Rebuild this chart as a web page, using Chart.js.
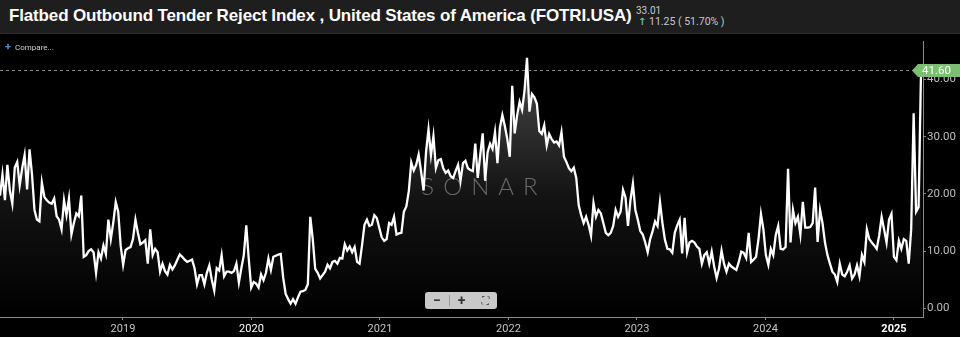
<!DOCTYPE html>
<html>
<head>
<meta charset="utf-8">
<script src="https://cdn.jsdelivr.net/npm/chart.js@4/dist/chart.umd.min.js"></script>
<style>
  html, body { margin: 0; padding: 0; background: #000; width: 960px; height: 337px; overflow: hidden; }
  body { position: relative; font-family: Roboto, "Liberation Sans", sans-serif; }
  .header {
    position: absolute; left: 0; top: 0; width: 960px; height: 33px;
    background: #1e1e1e; border-bottom: 1px solid #2f2f2f;
  }
  .title {
    position: absolute; left: 9px; top: 6px; color: #fff; letter-spacing: -0.15px;
    font: bold 17px "Liberation Sans", Arial, sans-serif; white-space: nowrap;
  }
  .last { position: absolute; left: 636px; top: 5px; color: #c8c8c8; font-size: 10px; }
  .change { position: absolute; left: 638px; top: 15px; color: #c8c8c8; font-size: 10.5px; white-space: nowrap; }
  .change b { color: #5cc48a; font-weight: bold; font-family: "DejaVu Sans", sans-serif; font-size: 10px; }
  .compare { position: absolute; left: 5px; top: 40px; color: #cfcfcf; font-size: 8px; }
  .compare span { color: #4a8fe0; font-weight: bold; font-size: 11px; margin-right: 4px; }
  #wrap { position: absolute; left: 0; top: 34px; width: 960px; height: 303px; }
  .zoom {
    position: absolute; left: 425px; top: 292px; width: 72px; height: 17px;
    background: #c9c9c9; border-radius: 3px; display: flex; align-items: center;
    color: #333; font-size: 14px; font-weight: bold;
  }
  .zoom div { flex: 1; text-align: center; line-height: 17px; }
  .zoom .sep { flex: 0 0 1px; height: 11px; background: #999; }
  .zoom .fit { font-size: 10px; font-weight: normal; letter-spacing: -1px; }
</style>
</head>
<body>
<div class="header">
  <div class="title">Flatbed Outbound Tender Reject Index , United States of America (FOTRI.USA)</div>
  <div class="last">33.01</div>
  <div class="change"><b>&#x2191;</b> 11.25 ( 51.70% )</div>
</div>
<div id="wrap"><canvas id="rejectChart"></canvas></div>
<div class="compare"><span>+</span>Compare...</div>
<div class="zoom"><div>&minus;</div><div class="sep"></div><div>+</div><div class="fit">&#x26F6;</div></div>
<script>
// Weekly tender reject index (%), one array per calendar year
const v2018 = [19.7, 23.4, 18.9, 25.1, 20.6, 18.3, 24.6, 25.6, 21.5, 24.5,
  26.8, 20.8, 27.8, 23.4, 17.2, 15.5, 15.2, 22.0, 19.5, 18.9,
  18.5, 18.3, 19.2, 16.1, 15.5, 13.8, 18.9, 16.3, 19.2, 12.9,
  14.9, 16.6, 16.1, 19.7, 9.0, 9.3, 10.0, 10.3, 9.8, 6.2,
  9.8, 8.7, 11.0, 9.5, 15.5, 12.1, 15.0, 18.6, 16.9, 11.0];
const v2019 = [7.6, 10.2, 10.5, 10.7, 12.1, 15.5, 13.2, 11.2, 11.5, 11.9,
  7.8, 13.8, 9.3, 10.4, 9.8, 6.4, 7.8, 6.5, 5.9, 7.6,
  6.8, 7.5, 8.5, 9.4, 9.0, 8.5, 8.1, 8.3, 8.5, 7.0,
  4.2, 5.8, 5.8, 4.2, 6.2, 7.5, 5.0, 3.1, 7.0, 6.6,
  9.3, 5.6, 6.4, 6.4, 6.2, 6.5, 7.8, 4.5, 7.0, 9.3,
  14.5, 8.7];
const v2020 = [3.6, 4.6, 4.3, 3.6, 5.9, 4.9, 6.2, 8.7, 6.7, 9.0,
  9.2, 9.4, 9.5, 5.3, 2.5, 1.6, 0.8, 1.6, 0.8, 1.9,
  2.9, 3.0, 3.2, 4.2, 16.0, 12.1, 6.9, 6.2, 5.2, 5.8,
  6.4, 7.6, 7.0, 8.1, 8.3, 7.8, 8.8, 8.7, 11.2, 10.1,
  10.8, 9.8, 10.7, 8.1, 7.8, 11.0, 14.6, 15.5, 14.4, 14.6,
  16.3, 15.8];
const v2021 = [14.1, 12.4, 11.8, 12.1, 14.9, 14.6, 16.0, 12.9, 13.1, 13.2,
  16.9, 17.8, 20.5, 25.5, 24.1, 25.1, 26.9, 23.9, 20.6, 27.3,
  31.3, 26.8, 30.1, 24.5, 25.9, 26.1, 24.5, 23.7, 24.1, 23.1,
  22.8, 24.0, 25.1, 22.3, 25.4, 25.8, 24.5, 24.2, 24.0, 28.8,
  22.8, 26.8, 30.6, 22.3, 27.3, 28.8, 27.9, 30.8, 25.4, 31.6,
  33.8, 31.9];
const v2022 = [29.6, 26.5, 38.9, 30.6, 33.8, 36.1, 34.7, 38.1, 43.8, 34.4,
  37.5, 36.9, 35.8, 31.0, 30.5, 32.0, 28.5, 30.5, 29.6, 29.0,
  29.2, 28.5, 30.8, 26.5, 25.6, 24.5, 24.0, 24.6, 22.8, 18.0,
  16.3, 14.9, 16.0, 14.6, 12.7, 18.4, 16.0, 17.2, 16.6, 14.9,
  13.2, 12.8, 13.2, 14.4, 17.2, 16.0, 16.9, 20.7, 19.4, 14.4,
  18.9, 21.8, 17.2];
const v2023 = [15.5, 13.5, 12.9, 11.5, 9.8, 12.1, 13.5, 15.2, 14.4, 18.6,
  14.9, 12.0, 10.4, 10.3, 9.7, 13.2, 14.5, 15.5, 9.6, 15.8,
  9.8, 11.5, 11.8, 11.5, 10.8, 10.4, 7.8, 9.3, 9.8, 7.8,
  9.9, 7.3, 5.3, 7.0, 10.1, 7.8, 6.4, 7.8, 7.3, 7.0,
  6.7, 8.1, 9.9, 9.7, 8.8, 13.2, 8.1, 8.5, 9.0, 12.1,
  16.5, 13.8];
const v2024 = [9.3, 7.6, 10.4, 9.3, 12.8, 14.4, 10.4, 10.3, 10.7, 24.4,
  11.5, 17.2, 14.9, 16.0, 12.9, 18.6, 14.1, 14.1, 14.2, 14.9,
  21.1, 11.6, 17.2, 14.9, 11.5, 9.3, 7.8, 6.4, 5.9, 4.6,
  7.8, 5.9, 5.6, 6.4, 7.5, 5.2, 5.9, 7.5, 5.6, 9.3,
  8.1, 13.8, 12.1, 11.5, 11.0, 10.4, 12.7, 16.0, 13.8, 11.5,
  15.5, 16.5, 9.0];
const v2025 = [8.4, 11.8, 10.4, 12.1, 11.8, 7.8, 13.8, 34.1, 16.9, 17.7,
  41.6];

const firstWeek = 2018.043;     // decimal year of the first reading
const weekStep = 7 / 365.25;
const yearTicks = [2019, 2020, 2021, 2022, 2023, 2024, 2025];
const valueTicks = [0, 10, 20, 30, 40];

const values = [...v2018, ...v2019, ...v2020, ...v2021, ...v2022, ...v2023, ...v2024, ...v2025];
const points = values.map((v, i) => ({ x: firstWeek + i * weekStep, y: v }));
const lastValue = values[values.length - 1];

// dashed guide at the latest reading plus the green price tag on the axis
const lastValuePlugin = {
  id: 'lastValue',
  afterDatasetsDraw(chart) {
    const { ctx, chartArea, scales } = chart;
    const y = Math.round(scales.y.getPixelForValue(lastValue)) + 0.5;
    ctx.save();
    ctx.strokeStyle = '#8a8a8a';
    ctx.lineWidth = 1;
    ctx.setLineDash([3, 3]);
    ctx.beginPath();
    ctx.moveTo(chartArea.left, y);
    ctx.lineTo(chartArea.right - 8, y);
    ctx.stroke();
    ctx.setLineDash([]);
    const x0 = chartArea.right - 11;
    ctx.fillStyle = '#7dbf72';
    ctx.beginPath();
    ctx.moveTo(x0, y);
    ctx.lineTo(x0 + 6, y - 6.5);
    ctx.lineTo(960, y - 6.5);
    ctx.lineTo(960, y + 6.5);
    ctx.lineTo(x0 + 6, y + 6.5);
    ctx.closePath();
    ctx.fill();
    ctx.fillStyle = '#fff';
    ctx.font = '11.5px Roboto';
    ctx.textBaseline = 'middle';
    ctx.fillText(lastValue.toFixed(2), x0 + 10, y + 0.5);
    ctx.restore();
  }
};

// SONAR watermark in the middle of the plot
const watermarkPlugin = {
  id: 'watermark',
  beforeDatasetsDraw(chart) {
    const { ctx } = chart;
    ctx.save();
    ctx.font = '300 24px Lato';
    ctx.letterSpacing = '9px';
    ctx.fillStyle = 'rgba(150,150,150,0.6)';
    ctx.textAlign = 'center';
    ctx.textBaseline = 'middle';
    ctx.fillText('SONAR', 484, 153);
    ctx.restore();
  }
};

const canvas = document.getElementById('rejectChart');
const ctx = canvas.getContext('2d');

new Chart(ctx, {
  type: 'line',
  data: {
    datasets: [{
      data: points,
      borderColor: '#ffffff',
      borderWidth: 2.3,
      pointRadius: 0,
      tension: 0,
      fill: 'start',
      backgroundColor: (c) => {
        const area = c.chart.chartArea;
        if (!area) return 'rgba(255,255,255,0.1)';
        const g = c.chart.ctx.createLinearGradient(0, area.top, 0, area.bottom);
        g.addColorStop(0, 'rgba(255,255,255,0.32)');
        g.addColorStop(0.55, 'rgba(255,255,255,0.08)');
        g.addColorStop(1, 'rgba(255,255,255,0)');
        return g;
      }
    }]
  },
  options: {
    responsive: true,
    maintainAspectRatio: false,
    animation: false,
    layout: { padding: 0 },
    plugins: {
      legend: { display: false },
      tooltip: { enabled: false }
    },
    scales: {
      x: {
        type: 'linear',
        min: firstWeek,
        max: 2025.226,
        afterBuildTicks: (scale) => { scale.ticks = yearTicks.map(v => ({ value: v })); },
        afterFit: (scale) => { scale.height = 20; },
        grid: { display: true, drawOnChartArea: false, tickLength: 3, color: '#8a8a8a' },
        border: { display: true, color: '#8a8a8a' },
        ticks: {
          padding: 3,
          maxRotation: 0,
          callback: (v) => String(v),
          color: (c) => (c.tick && (c.tick.value === 2020 || c.tick.value === 2025)) ? '#ffffff' : '#c4c4c4',
          font: (c) => ({ family: 'Roboto', size: 11, weight: (c.tick && c.tick.value === 2025) ? 'bold' : 'normal' })
        }
      },
      y: {
        position: 'right',
        min: -1.53,
        max: 46.6,
        afterBuildTicks: (scale) => { scale.ticks = valueTicks.map(v => ({ value: v })); },
        afterFit: (scale) => { scale.width = 37; },
        grid: { display: true, drawOnChartArea: false, tickLength: 3, color: '#8a8a8a' },
        border: { display: true, color: '#8a8a8a' },
        ticks: {
          padding: 1,
          color: '#bdbdbd',
          font: { family: 'Roboto', size: 11.5 },
          callback: (v) => v.toFixed(2)
        }
      }
    }
  },
  plugins: [watermarkPlugin, lastValuePlugin]
});
</script>
</body>
</html>
